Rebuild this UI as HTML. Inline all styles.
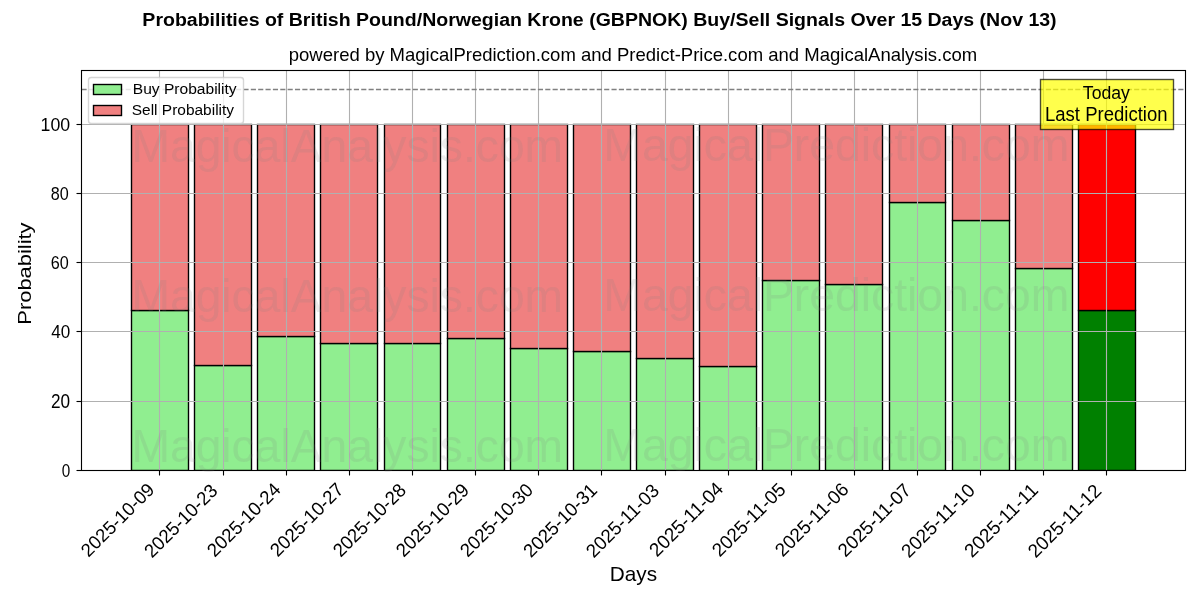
<!DOCTYPE html>
<html><head><meta charset="utf-8"><title>Probabilities of British Pound/Norwegian Krone (GBPNOK) Buy/Sell Signals</title>
<style>html,body{margin:0;padding:0;background:#fff;}svg{display:block;will-change:transform;}text{font-family:"Liberation Sans",sans-serif;}</style></head>
<body><svg width="1200" height="600" viewBox="0 0 1200 600">
<rect width="1200" height="600" fill="#fff"/>
<g stroke="#000" stroke-width="1.389"><rect x="131.5" y="310.5" width="57" height="160" fill="#90ee90"/><rect x="194.5" y="365.5" width="57" height="105" fill="#90ee90"/><rect x="257.5" y="336.5" width="57" height="134" fill="#90ee90"/><rect x="320.5" y="343.5" width="57" height="127" fill="#90ee90"/><rect x="384.5" y="343.5" width="56" height="127" fill="#90ee90"/><rect x="447.5" y="338.5" width="57" height="132" fill="#90ee90"/><rect x="510.5" y="348.5" width="57" height="122" fill="#90ee90"/><rect x="573.5" y="351.5" width="57" height="119" fill="#90ee90"/><rect x="636.5" y="358.5" width="57" height="112" fill="#90ee90"/><rect x="699.5" y="366.5" width="57" height="104" fill="#90ee90"/><rect x="762.5" y="280.5" width="57" height="190" fill="#90ee90"/><rect x="825.5" y="284.5" width="57" height="186" fill="#90ee90"/><rect x="889.5" y="202.5" width="56" height="268" fill="#90ee90"/><rect x="952.5" y="220.5" width="57" height="250" fill="#90ee90"/><rect x="1015.5" y="268.5" width="57" height="202" fill="#90ee90"/><rect x="1078.5" y="310.5" width="57" height="160" fill="#008000"/><rect x="131.5" y="124.5" width="57" height="186" fill="#f08080"/><rect x="194.5" y="124.5" width="57" height="241" fill="#f08080"/><rect x="257.5" y="124.5" width="57" height="212" fill="#f08080"/><rect x="320.5" y="124.5" width="57" height="219" fill="#f08080"/><rect x="384.5" y="124.5" width="56" height="219" fill="#f08080"/><rect x="447.5" y="124.5" width="57" height="214" fill="#f08080"/><rect x="510.5" y="124.5" width="57" height="224" fill="#f08080"/><rect x="573.5" y="124.5" width="57" height="227" fill="#f08080"/><rect x="636.5" y="124.5" width="57" height="234" fill="#f08080"/><rect x="699.5" y="124.5" width="57" height="242" fill="#f08080"/><rect x="762.5" y="124.5" width="57" height="156" fill="#f08080"/><rect x="825.5" y="124.5" width="57" height="160" fill="#f08080"/><rect x="889.5" y="124.5" width="56" height="78" fill="#f08080"/><rect x="952.5" y="124.5" width="57" height="96" fill="#f08080"/><rect x="1015.5" y="124.5" width="57" height="144" fill="#f08080"/><rect x="1078.5" y="124.5" width="57" height="186" fill="#ff0000"/></g><g stroke="#b0b0b0" stroke-width="1.111"><line x1="159.5" y1="70.5" x2="159.5" y2="470.5"/><line x1="223.5" y1="70.5" x2="223.5" y2="470.5"/><line x1="286.5" y1="70.5" x2="286.5" y2="470.5"/><line x1="349.5" y1="70.5" x2="349.5" y2="470.5"/><line x1="412.5" y1="70.5" x2="412.5" y2="470.5"/><line x1="475.5" y1="70.5" x2="475.5" y2="470.5"/><line x1="538.5" y1="70.5" x2="538.5" y2="470.5"/><line x1="601.5" y1="70.5" x2="601.5" y2="470.5"/><line x1="665.5" y1="70.5" x2="665.5" y2="470.5"/><line x1="728.5" y1="70.5" x2="728.5" y2="470.5"/><line x1="791.5" y1="70.5" x2="791.5" y2="470.5"/><line x1="854.5" y1="70.5" x2="854.5" y2="470.5"/><line x1="917.5" y1="70.5" x2="917.5" y2="470.5"/><line x1="980.5" y1="70.5" x2="980.5" y2="470.5"/><line x1="1043.5" y1="70.5" x2="1043.5" y2="470.5"/><line x1="1106.5" y1="70.5" x2="1106.5" y2="470.5"/><line x1="81.5" y1="470.5" x2="1185.5" y2="470.5"/><line x1="81.5" y1="401.5" x2="1185.5" y2="401.5"/><line x1="81.5" y1="331.5" x2="1185.5" y2="331.5"/><line x1="81.5" y1="262.5" x2="1185.5" y2="262.5"/><line x1="81.5" y1="193.5" x2="1185.5" y2="193.5"/><line x1="81.5" y1="124.5" x2="1185.5" y2="124.5"/></g><line x1="81.5" y1="89.5" x2="1185.5" y2="89.5" stroke="#808080" stroke-width="1.389" stroke-dasharray="5.139 2.222"/><rect x="81.5" y="471" width="1104" height="2" fill="#fff"/><g stroke="#000" stroke-width="1.111" stroke-linecap="square" fill="none"><rect x="81.5" y="70.5" width="1104" height="400"/><line x1="159.5" y1="470.5" x2="159.5" y2="475.5" stroke-linecap="butt"/><line x1="223.5" y1="470.5" x2="223.5" y2="475.5" stroke-linecap="butt"/><line x1="286.5" y1="470.5" x2="286.5" y2="475.5" stroke-linecap="butt"/><line x1="349.5" y1="470.5" x2="349.5" y2="475.5" stroke-linecap="butt"/><line x1="412.5" y1="470.5" x2="412.5" y2="475.5" stroke-linecap="butt"/><line x1="475.5" y1="470.5" x2="475.5" y2="475.5" stroke-linecap="butt"/><line x1="538.5" y1="470.5" x2="538.5" y2="475.5" stroke-linecap="butt"/><line x1="601.5" y1="470.5" x2="601.5" y2="475.5" stroke-linecap="butt"/><line x1="665.5" y1="470.5" x2="665.5" y2="475.5" stroke-linecap="butt"/><line x1="728.5" y1="470.5" x2="728.5" y2="475.5" stroke-linecap="butt"/><line x1="791.5" y1="470.5" x2="791.5" y2="475.5" stroke-linecap="butt"/><line x1="854.5" y1="470.5" x2="854.5" y2="475.5" stroke-linecap="butt"/><line x1="917.5" y1="470.5" x2="917.5" y2="475.5" stroke-linecap="butt"/><line x1="980.5" y1="470.5" x2="980.5" y2="475.5" stroke-linecap="butt"/><line x1="1043.5" y1="470.5" x2="1043.5" y2="475.5" stroke-linecap="butt"/><line x1="1106.5" y1="470.5" x2="1106.5" y2="475.5" stroke-linecap="butt"/><line x1="81.5" y1="470.5" x2="76.5" y2="470.5" stroke-linecap="butt"/><line x1="81.5" y1="401.5" x2="76.5" y2="401.5" stroke-linecap="butt"/><line x1="81.5" y1="331.5" x2="76.5" y2="331.5" stroke-linecap="butt"/><line x1="81.5" y1="262.5" x2="76.5" y2="262.5" stroke-linecap="butt"/><line x1="81.5" y1="193.5" x2="76.5" y2="193.5" stroke-linecap="butt"/><line x1="81.5" y1="124.5" x2="76.5" y2="124.5" stroke-linecap="butt"/></g><rect x="1040.5" y="79.5" width="133" height="50" fill="#ffff00" fill-opacity="0.7" stroke="#000" stroke-opacity="0.7" stroke-width="1.389"/>
<text transform="translate(88.531 557.901) rotate(-45)" font-size="18.671" textLength="94.727" lengthAdjust="spacingAndGlyphs">2025-10-09</text>
<text transform="translate(151.988 558.73) rotate(-45)" font-size="19.109" textLength="94.245" lengthAdjust="spacingAndGlyphs">2025-10-23</text>
<text transform="translate(214.763 557.878) rotate(-45)" font-size="18.937" textLength="94.844" lengthAdjust="spacingAndGlyphs">2025-10-24</text>
<text transform="translate(277.834 557.822) rotate(-45)" font-size="18.981" textLength="94.828" lengthAdjust="spacingAndGlyphs">2025-10-27</text>
<text transform="translate(340.632 557.992) rotate(-45)" font-size="19.102" textLength="94.144" lengthAdjust="spacingAndGlyphs">2025-10-28</text>
<text transform="translate(403.744 557.977) rotate(-45)" font-size="19.135" textLength="94.144" lengthAdjust="spacingAndGlyphs">2025-10-29</text>
<text transform="translate(467.774 557.879) rotate(-45)" font-size="18.891" textLength="94.144" lengthAdjust="spacingAndGlyphs">2025-10-30</text>
<text transform="translate(531.099 558.577) rotate(-45)" font-size="18.94" textLength="94.978" lengthAdjust="spacingAndGlyphs">2025-10-31</text>
<text transform="translate(593.814 558.665) rotate(-45)" font-size="19.062" textLength="94.25" lengthAdjust="spacingAndGlyphs">2025-11-03</text>
<text transform="translate(656.972 557.695) rotate(-45)" font-size="19.192" textLength="95.571" lengthAdjust="spacingAndGlyphs">2025-11-04</text>
<text transform="translate(719.732 557.828) rotate(-45)" font-size="19.066" textLength="94.828" lengthAdjust="spacingAndGlyphs">2025-11-05</text>
<text transform="translate(782.777 557.746) rotate(-45)" font-size="19.059" textLength="94.834" lengthAdjust="spacingAndGlyphs">2025-11-06</text>
<text transform="translate(845.569 557.91) rotate(-45)" font-size="18.917" textLength="94.128" lengthAdjust="spacingAndGlyphs">2025-11-07</text>
<text transform="translate(909.001 558.715) rotate(-45)" font-size="19.063" textLength="94.962" lengthAdjust="spacingAndGlyphs">2025-11-10</text>
<text transform="translate(971.948 558.535) rotate(-45)" font-size="19.018" textLength="95.117" lengthAdjust="spacingAndGlyphs">2025-11-11</text>
<text transform="translate(1035.82 558.779) rotate(-45)" font-size="19.221" textLength="94.367" lengthAdjust="spacingAndGlyphs">2025-11-12</text>
<text x="633.451" y="580.696" text-anchor="middle" font-size="20.349" textLength="47.346" lengthAdjust="spacingAndGlyphs">Days</text>
<text x="70.181" y="476.853" text-anchor="end" font-size="19.063" textLength="8.505" lengthAdjust="spacingAndGlyphs">0</text>
<text x="70.181" y="408.443" text-anchor="end" font-size="19.313" textLength="19.113" lengthAdjust="spacingAndGlyphs">20</text>
<text x="70.181" y="338.102" text-anchor="end" font-size="18.228" textLength="19" lengthAdjust="spacingAndGlyphs">40</text>
<text x="68.681" y="269.052" text-anchor="end" font-size="18.086" textLength="18" lengthAdjust="spacingAndGlyphs">60</text>
<text x="68.681" y="200.135" text-anchor="end" font-size="18.409" textLength="18" lengthAdjust="spacingAndGlyphs">80</text>
<text x="70.181" y="130.948" text-anchor="end" font-size="19.146" textLength="29.585" lengthAdjust="spacingAndGlyphs">100</text>
<text x="30.634" y="273.546" transform="rotate(-90 30.634 273.546)" text-anchor="middle" font-size="18.139" textLength="102.238" lengthAdjust="spacingAndGlyphs">Probability</text>
<text transform="translate(1082.805 98.974)" font-size="18.969" textLength="47.143" lengthAdjust="spacingAndGlyphs">Today</text>
<text transform="translate(1045.005 120.545)" font-size="19.716" textLength="122.5" lengthAdjust="spacingAndGlyphs">Last Prediction</text>
<text x="632.951" y="61.483" text-anchor="middle" font-size="18.773" textLength="688.374" lengthAdjust="spacingAndGlyphs">powered by MagicalPrediction.com and Predict-Price.com and MagicalAnalysis.com</text>
<rect x="88.5" y="77.5" width="155" height="46" rx="2.778" fill="#fff" fill-opacity="0.8" stroke="#cccccc" stroke-opacity="0.8" stroke-width="1.389"/><rect x="93.5" y="84.5" width="28" height="10" fill="#90ee90" stroke="#000" stroke-width="1.389"/><rect x="93.5" y="105.5" width="28" height="10" fill="#f08080" stroke="#000" stroke-width="1.389"/>
<text x="132.792" y="93.687" font-size="14.93" textLength="103.876" lengthAdjust="spacingAndGlyphs">Buy Probability</text>
<text x="131.792" y="114.997" font-size="14.454" textLength="102.257" lengthAdjust="spacingAndGlyphs">Sell Probability</text>
<text x="599.5" y="25.696" font-weight="bold" text-anchor="middle" font-size="18.88" textLength="914.249" lengthAdjust="spacingAndGlyphs">Probabilities of British Pound/Norwegian Krone (GBPNOK) Buy/Sell Signals Over 15 Days (Nov 13)</text>
<text x="131.4" y="161.825" fill="#808080" fill-opacity="0.15" font-size="45.882" textLength="431.734" lengthAdjust="spacingAndGlyphs">MagicalAnalysis.com</text>
<text x="603.4" y="161.474" fill="#808080" fill-opacity="0.15" font-size="45.798" textLength="465.85" lengthAdjust="spacingAndGlyphs">MagicalPrediction.com</text>
<text x="131.4" y="311.825" fill="#808080" fill-opacity="0.15" font-size="45.882" textLength="431.734" lengthAdjust="spacingAndGlyphs">MagicalAnalysis.com</text>
<text x="603.4" y="311.474" fill="#808080" fill-opacity="0.15" font-size="45.798" textLength="465.85" lengthAdjust="spacingAndGlyphs">MagicalPrediction.com</text>
<text x="131.4" y="461.825" fill="#808080" fill-opacity="0.15" font-size="45.882" textLength="431.734" lengthAdjust="spacingAndGlyphs">MagicalAnalysis.com</text>
<text x="603.4" y="461.474" fill="#808080" fill-opacity="0.15" font-size="45.798" textLength="465.85" lengthAdjust="spacingAndGlyphs">MagicalPrediction.com</text>
</svg></body></html>
